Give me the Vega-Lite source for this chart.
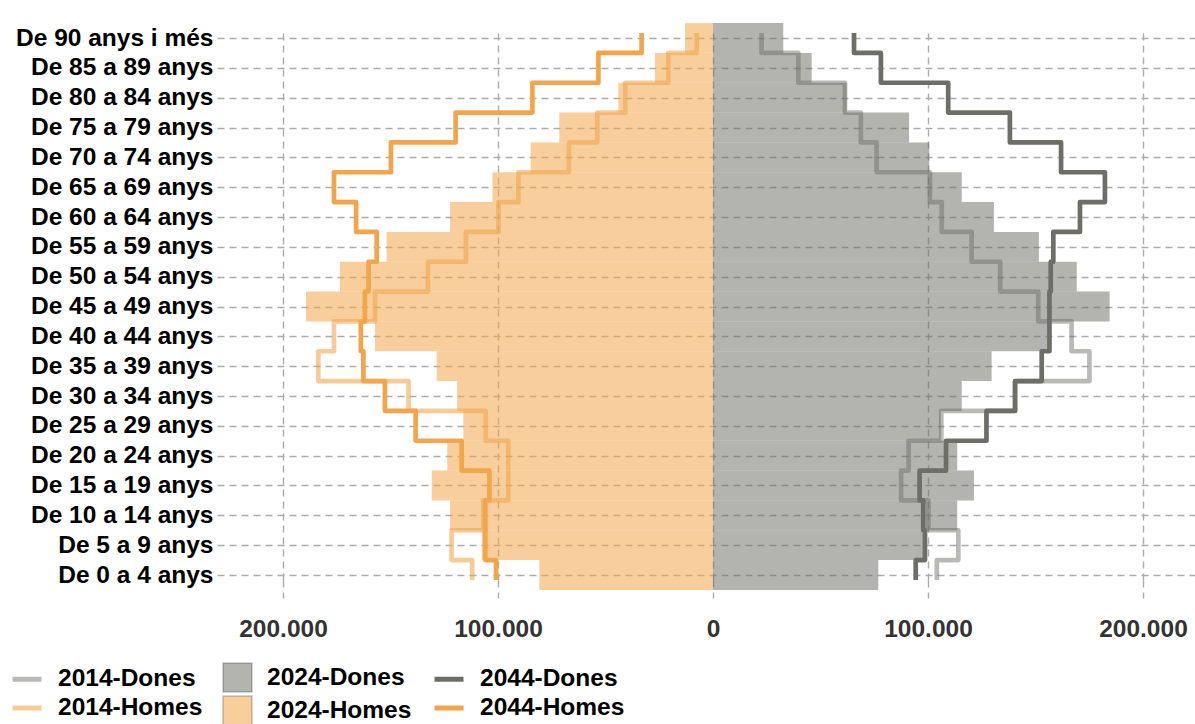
{
  "$schema": "https://vega.github.io/schema/vega-lite/v6.json",
  "width": 978,
  "height": 547,
  "autosize": "none",
  "padding": {"left": 217, "top": 33, "right": 0, "bottom": 144},
  "background": "white",
  "config": {"view": {"stroke": null}, "font": "Liberation Sans"},
  "data": {
    "values": [
      {"e": 0, "s": "2024-Homes", "v": -80800}, {"e": 5, "s": "2024-Homes", "v": -107500}, {"e": 10, "s": "2024-Homes", "v": -122300}, {"e": 15, "s": "2024-Homes", "v": -130800}, {"e": 20, "s": "2024-Homes", "v": -123600}, {"e": 25, "s": "2024-Homes", "v": -116100}, {"e": 30, "s": "2024-Homes", "v": -119000}, {"e": 35, "s": "2024-Homes", "v": -128500}, {"e": 40, "s": "2024-Homes", "v": -157200}, {"e": 45, "s": "2024-Homes", "v": -189300}, {"e": 50, "s": "2024-Homes", "v": -173500}, {"e": 55, "s": "2024-Homes", "v": -151800}, {"e": 60, "s": "2024-Homes", "v": -122300}, {"e": 65, "s": "2024-Homes", "v": -102600}, {"e": 70, "s": "2024-Homes", "v": -84800}, {"e": 75, "s": "2024-Homes", "v": -71500}, {"e": 80, "s": "2024-Homes", "v": -44000}, {"e": 85, "s": "2024-Homes", "v": -27000}, {"e": 90, "s": "2024-Homes", "v": -13000},
      {"e": 0, "s": "2024-Dones", "v": 76900}, {"e": 5, "s": "2024-Dones", "v": 98000}, {"e": 10, "s": "2024-Dones", "v": 113600}, {"e": 15, "s": "2024-Dones", "v": 121400}, {"e": 20, "s": "2024-Dones", "v": 113600}, {"e": 25, "s": "2024-Dones", "v": 106000}, {"e": 30, "s": "2024-Dones", "v": 115700}, {"e": 35, "s": "2024-Dones", "v": 129600}, {"e": 40, "s": "2024-Dones", "v": 155800}, {"e": 45, "s": "2024-Dones", "v": 184500}, {"e": 50, "s": "2024-Dones", "v": 169200}, {"e": 55, "s": "2024-Dones", "v": 151600}, {"e": 60, "s": "2024-Dones", "v": 130700}, {"e": 65, "s": "2024-Dones", "v": 115700}, {"e": 70, "s": "2024-Dones", "v": 100600}, {"e": 75, "s": "2024-Dones", "v": 91200}, {"e": 80, "s": "2024-Dones", "v": 62200}, {"e": 85, "s": "2024-Dones", "v": 45900}, {"e": 90, "s": "2024-Dones", "v": 32700},
      {"e": 0, "s": "2014-Homes", "v": -112000}, {"e": 5, "s": "2014-Homes", "v": -121600}, {"e": 10, "s": "2014-Homes", "v": -106800}, {"e": 15, "s": "2014-Homes", "v": -95200}, {"e": 20, "s": "2014-Homes", "v": -95200}, {"e": 25, "s": "2014-Homes", "v": -105700}, {"e": 30, "s": "2014-Homes", "v": -141600}, {"e": 35, "s": "2014-Homes", "v": -183600}, {"e": 40, "s": "2014-Homes", "v": -176300}, {"e": 45, "s": "2014-Homes", "v": -157200}, {"e": 50, "s": "2014-Homes", "v": -132600}, {"e": 55, "s": "2014-Homes", "v": -114900}, {"e": 60, "s": "2014-Homes", "v": -99800}, {"e": 65, "s": "2014-Homes", "v": -90500}, {"e": 70, "s": "2014-Homes", "v": -67000}, {"e": 75, "s": "2014-Homes", "v": -53800}, {"e": 80, "s": "2014-Homes", "v": -40800}, {"e": 85, "s": "2014-Homes", "v": -20800}, {"e": 90, "s": "2014-Homes", "v": -7600},
      {"e": 0, "s": "2014-Dones", "v": 104100}, {"e": 5, "s": "2014-Dones", "v": 114100}, {"e": 10, "s": "2014-Dones", "v": 100200}, {"e": 15, "s": "2014-Dones", "v": 87500}, {"e": 20, "s": "2014-Dones", "v": 91000}, {"e": 25, "s": "2014-Dones", "v": 106200}, {"e": 30, "s": "2014-Dones", "v": 140500}, {"e": 35, "s": "2014-Dones", "v": 175100}, {"e": 40, "s": "2014-Dones", "v": 166800}, {"e": 45, "s": "2014-Dones", "v": 151300}, {"e": 50, "s": "2014-Dones", "v": 133600}, {"e": 55, "s": "2014-Dones", "v": 120300}, {"e": 60, "s": "2014-Dones", "v": 106400}, {"e": 65, "s": "2014-Dones", "v": 100900}, {"e": 70, "s": "2014-Dones", "v": 76100}, {"e": 75, "s": "2014-Dones", "v": 68800}, {"e": 80, "s": "2014-Dones", "v": 61400}, {"e": 85, "s": "2014-Dones", "v": 39700}, {"e": 90, "s": "2014-Dones", "v": 22600},
      {"e": 0, "s": "2044-Homes", "v": -100900}, {"e": 5, "s": "2044-Homes", "v": -105900}, {"e": 10, "s": "2044-Homes", "v": -105900}, {"e": 15, "s": "2044-Homes", "v": -104000}, {"e": 20, "s": "2044-Homes", "v": -116900}, {"e": 25, "s": "2044-Homes", "v": -138300}, {"e": 30, "s": "2044-Homes", "v": -152600}, {"e": 35, "s": "2044-Homes", "v": -162600}, {"e": 40, "s": "2044-Homes", "v": -163800}, {"e": 45, "s": "2044-Homes", "v": -161900}, {"e": 50, "s": "2044-Homes", "v": -160200}, {"e": 55, "s": "2044-Homes", "v": -156400}, {"e": 60, "s": "2044-Homes", "v": -166000}, {"e": 65, "s": "2044-Homes", "v": -176300}, {"e": 70, "s": "2044-Homes", "v": -149800}, {"e": 75, "s": "2044-Homes", "v": -119700}, {"e": 80, "s": "2044-Homes", "v": -84000}, {"e": 85, "s": "2044-Homes", "v": -53300}, {"e": 90, "s": "2044-Homes", "v": -33200},
      {"e": 0, "s": "2044-Dones", "v": 94300}, {"e": 5, "s": "2044-Dones", "v": 98600}, {"e": 10, "s": "2044-Dones", "v": 97800}, {"e": 15, "s": "2044-Dones", "v": 96100}, {"e": 20, "s": "2044-Dones", "v": 108400}, {"e": 25, "s": "2044-Dones", "v": 127200}, {"e": 30, "s": "2044-Dones", "v": 140500}, {"e": 35, "s": "2044-Dones", "v": 152900}, {"e": 40, "s": "2044-Dones", "v": 156500}, {"e": 45, "s": "2044-Dones", "v": 156500}, {"e": 50, "s": "2044-Dones", "v": 157100}, {"e": 55, "s": "2044-Dones", "v": 158300}, {"e": 60, "s": "2044-Dones", "v": 170700}, {"e": 65, "s": "2044-Dones", "v": 182300}, {"e": 70, "s": "2044-Dones", "v": 161900}, {"e": 75, "s": "2044-Dones", "v": 138100}, {"e": 80, "s": "2044-Dones", "v": 109400}, {"e": 85, "s": "2044-Dones", "v": 78100}, {"e": 90, "s": "2044-Dones", "v": 65600}
    ]
  },
  "transform": [
    {"bin": {"step": 5, "extent": [0, 95]}, "field": "e", "as": ["e0", "e1"]}
  ],
  "resolve": {"axis": {"x": "independent", "y": "independent"}},
  "layer": [
    {
      "transform": [{"filter": {"field": "s", "oneOf": ["2024-Dones", "2024-Homes"]}}],
      "mark": {"type": "bar", "orient": "horizontal"},
      "encoding": {
        "y": {
          "field": "e0", "type": "quantitative",
          "scale": {"domain": [2.5, 92.5], "nice": false, "zero": false},
          "axis": {
            "values": [2.5, 7.5, 12.5, 17.5, 22.5, 27.5, 32.5, 37.5, 42.5, 47.5, 52.5, 57.5, 62.5, 67.5, 72.5, 77.5, 82.5, 87.5, 92.5],
            "labelExpr": "['De 0 a 4 anys', 'De 5 a 9 anys', 'De 10 a 14 anys', 'De 15 a 19 anys', 'De 20 a 24 anys', 'De 25 a 29 anys', 'De 30 a 34 anys', 'De 35 a 39 anys', 'De 40 a 44 anys', 'De 45 a 49 anys', 'De 50 a 54 anys', 'De 55 a 59 anys', 'De 60 a 64 anys', 'De 65 a 69 anys', 'De 70 a 74 anys', 'De 75 a 79 anys', 'De 80 a 84 anys', 'De 85 a 89 anys', 'De 90 anys i més'][floor(datum.value / 5)]",
            "title": null, "domain": false, "ticks": false, "labelPadding": 4,
            "labelFont": "Liberation Sans", "labelFontSize": 24.5, "labelFontWeight": "bold", "labelColor": "#000000",
            "labelFlush": false, "labelOverlap": false, "labelBound": false, "labelLimit": 400,
            "grid": true, "gridDash": [7, 5], "gridColor": "#ABABAB", "gridWidth": 1.4
          }
        },
        "y2": {"field": "e1"},
        "x": {
          "field": "v", "type": "quantitative", "stack": null,
          "scale": {"domain": [-230700, 224200], "nice": false, "zero": false},
          "axis": {
            "values": [-200000, -100000, 0, 100000, 200000],
            "labelExpr": "replace(format(abs(datum.value), ','), ',', '.')",
            "title": null, "domain": false, "ticks": true, "tickSize": 18, "tickDash": [7, 5], "tickColor": "#ABABAB", "tickWidth": 1.4,
            "labelPadding": 19, "labelFont": "Liberation Sans", "labelFontSize": 24.5, "labelFontWeight": "bold", "labelColor": "#333333",
            "labelFlush": false, "labelOverlap": false,
            "grid": true, "gridDash": [7, 5], "gridColor": "#ABABAB", "gridWidth": 1.4
          }
        },
        "fill": {
          "field": "s", "type": "nominal",
          "scale": {"domain": ["2024-Dones", "2024-Homes"], "range": ["rgba(109,110,104,0.52)", "rgba(242,165,75,0.55)"]},
          "legend": {
            "orient": "none", "legendX": 5, "legendY": 629, "direction": "vertical",
            "title": null, "padding": 0, "rowPadding": -4, "labelOffset": 14,
            "labelFont": "Liberation Sans", "labelFontSize": 24.5, "labelFontWeight": "bold", "labelColor": "#000000", "labelLimit": 400,
            "symbolType": "square", "symbolSize": 841, "symbolStrokeColor": "rgba(0,0,0,0.22)", "symbolStrokeWidth": 1.5, "symbolOpacity": 1
          }
        }
      }
    },
    {
      "transform": [
        {"filter": {"field": "s", "oneOf": ["2014-Dones", "2014-Homes", "2044-Dones", "2044-Homes"]}},
        {"fold": ["e0", "e1"], "as": ["k", "pos"]},
        {"window": [{"op": "row_number", "as": "rn"}], "sort": [{"field": "pos", "order": "ascending"}, {"field": "e", "order": "ascending"}], "groupby": ["s"]}
      ],
      "mark": {"type": "line", "clip": true, "strokeWidth": 4.7, "strokeJoin": "round", "strokeCap": "butt"},
      "encoding": {
        "y": {"field": "pos", "type": "quantitative", "scale": {"domain": [2.5, 92.5], "nice": false, "zero": false}, "axis": null},
        "x": {"field": "v", "type": "quantitative", "scale": {"domain": [-230700, 224200], "nice": false, "zero": false}, "axis": null},
        "stroke": {
          "field": "s", "type": "nominal",
          "scale": {"domain": ["2014-Dones", "2044-Dones", "2014-Homes", "2044-Homes"], "range": ["rgba(109,110,104,0.48)", "#6D6E68", "rgba(242,165,75,0.58)", "#F2A54B"]},
          "legend": {
            "orient": "none", "legendX": -207, "legendY": 629, "direction": "horizontal", "columns": 2,
            "title": null, "padding": 0, "rowPadding": -4, "columnPadding": 221, "labelOffset": 14,
            "labelFont": "Liberation Sans", "labelFontSize": 24.5, "labelFontWeight": "bold", "labelColor": "#000000", "labelLimit": 400,
            "symbolType": "stroke", "symbolSize": 841, "symbolStrokeWidth": 5, "symbolOpacity": 1
          }
        },
        "order": {"field": "rn", "type": "quantitative"}
      }
    }
  ]
}
